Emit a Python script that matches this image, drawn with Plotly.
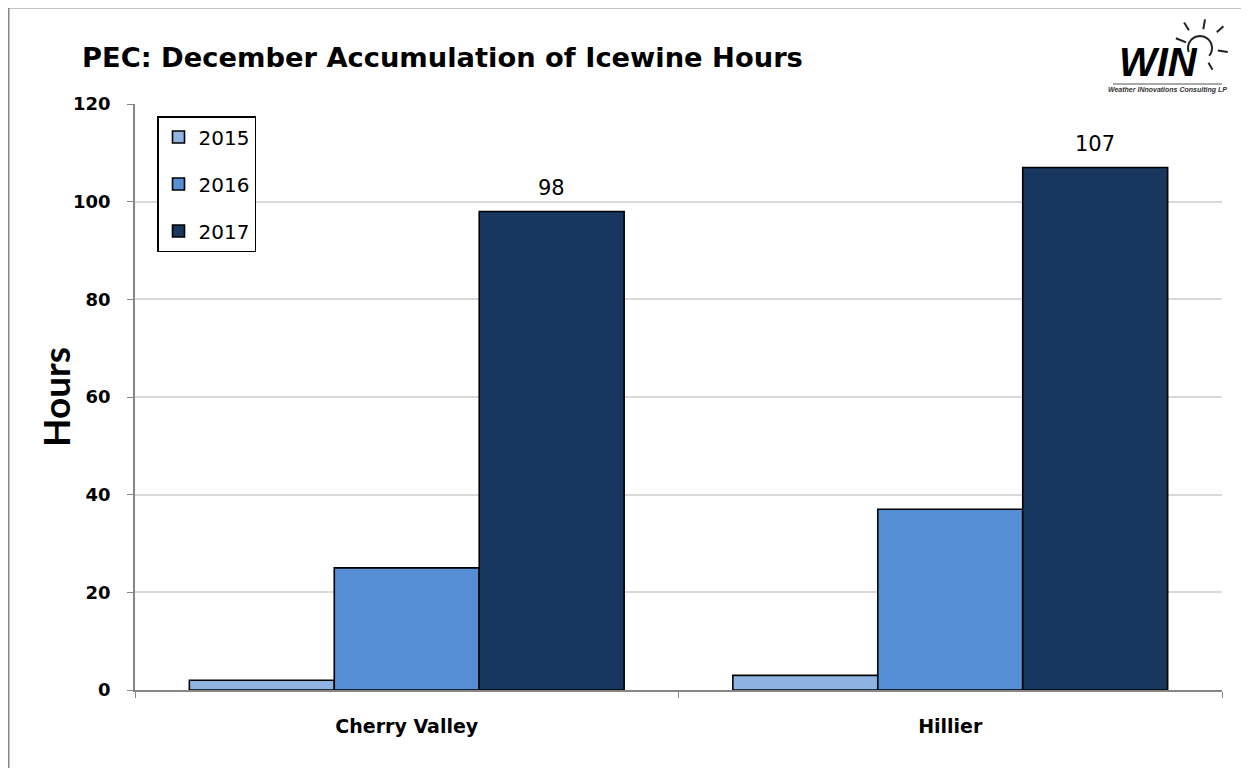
import math
import plotly.graph_objects as go

categories = ["Cherry Valley", "Hillier"]
years = ["2015", "2016", "2017"]
values_2015 = [2, 3]
values_2016 = [25, 37]
values_2017 = [98, 107]
series = [values_2015, values_2016, values_2017]
colors = ["#8eb4e3", "#558ed5", "#17375e"]
labelled_series = [False, False, True]
y_ticks = [0, 20, 40, 60, 80, 100, 120]

# page offset (body margin) -> work in page pixel coordinates
OFF = 8
W, H = 1241, 760
PL, PR, PT, PB = 135, 1222, 104, 690  # plot area in page px
L, T = PL - OFF, PT - OFF
R = W - (PR - OFF)
B = H - (PB - OFF)
pw, ph = PR - PL, PB - PT
BARGAP = 0.2


def px(x):
    return (x - PL) / pw


def py(y):
    return (PB - y) / ph


fig = go.Figure()
for i, (yr, vals) in enumerate(zip(years, series)):
    fig.add_trace(go.Bar(
        name=yr, x=categories, y=vals,
        marker=dict(color=colors[i], line=dict(color="#000000", width=1.6)),
        legendgroup=yr,
    ))

# data labels above the labelled series bars
cat_px = pw / len(categories)
bar_px = cat_px * (1 - BARGAP) / len(years)
annotations = []
for i, vals in enumerate(series):
    if not labelled_series[i]:
        continue
    offset = (i - (len(years) - 1) / 2) * bar_px
    for c, v in zip(categories, vals):
        annotations.append(dict(
            text=str(v), x=c, y=v, xref="x", yref="y", xshift=offset, yshift=23,
            xanchor="center", yanchor="middle", showarrow=False,
            font=dict(family="DejaVu Sans, sans-serif", size=21, color="#000")))

shapes = [
    dict(type="line", xref="paper", yref="paper", x0=px(8.75), x1=px(1300), y0=py(7.75), y1=py(7.75),
         line=dict(color="#868686", width=1.5)),
    dict(type="line", xref="paper", yref="paper", x0=px(8.75), x1=px(8.75), y0=py(7.75), y1=py(800),
         line=dict(color="#868686", width=1.5)),
    dict(type="line", xref="paper", yref="paper", x0=px(1113), x1=px(1222), y0=py(84), y1=py(84),
         line=dict(color="#555", width=1)),
]
# sun logo
cx, cy, rr = 1200, 48, 12
pts = []
for k in range(0, 25):
    a = math.radians(200 - k * (240 / 24))
    pts.append((cx + rr * math.cos(a), cy - rr * math.sin(a)))
path = "M " + " L ".join(f"{px(x)},{py(y)}" for x, y in pts)
shapes.append(dict(type="path", xref="paper", yref="paper", path=path, line=dict(color="#222", width=2)))
for ang, r0, r1 in [(80, 19, 29), (122, 21, 30), (158, 15, 26), (43, 23, 32), (-8, 18, 28), (-60, 17, 25)]:
    a = math.radians(ang)
    shapes.append(dict(type="line", xref="paper", yref="paper",
                       x0=px(cx + r0 * math.cos(a)), y0=py(cy - r0 * math.sin(a)),
                       x1=px(cx + r1 * math.cos(a)), y1=py(cy - r1 * math.sin(a)),
                       line=dict(color="#222", width=2)))

annotations += [
    dict(text="PEC: December Accumulation of Icewine Hours", xref="paper", yref="paper",
         x=px(80), y=py(57), xanchor="left", yanchor="middle", showarrow=False,
         font=dict(family="DejaVu Sans, sans-serif", size=27.3, color="#000", weight="bold")),
    dict(text="<i>WIN</i>", xref="paper", yref="paper",
         x=px(1158), y=py(62), xanchor="center", yanchor="middle", showarrow=False,
         font=dict(family="Liberation Sans Narrow, Liberation Sans, sans-serif", size=40,
                   color="#000", weight="bold")),
    dict(text="<i>Weather INnovations Consulting LP</i>", xref="paper", yref="paper",
         x=px(1167), y=py(90), xanchor="center", yanchor="middle", showarrow=False,
         font=dict(family="Liberation Sans Narrow, Liberation Sans, sans-serif", size=7,
                   color="#333", weight="bold")),
    dict(text="Hours", xref="paper", yref="paper", x=px(55), y=py(397),
         xanchor="center", yanchor="middle", textangle=-90, showarrow=False,
         font=dict(family="Liberation Sans Narrow, Lato, sans-serif", size=37, color="#000",
                   weight="bold")),
]

fig.update_layout(
    width=W, height=H,
    margin=dict(l=L, r=R, t=T, b=B, pad=0),
    paper_bgcolor="#ffffff", plot_bgcolor="#ffffff",
    barmode="group", bargap=BARGAP, bargroupgap=0,
    showlegend=True,
    legend=dict(x=px(157), y=py(116), xanchor="left", yanchor="top",
                bordercolor="#000", borderwidth=1.5, bgcolor="#fff",
                font=dict(family="DejaVu Sans, sans-serif", size=20, color="#000"),
                traceorder="grouped", tracegroupgap=18, itemwidth=30),
    shapes=shapes, annotations=annotations,
    xaxis=dict(showline=True, linecolor="#868686", linewidth=1.5, showgrid=False,
               ticks="outside", tickson="boundaries", ticklen=6, tickcolor="#868686",
               ticklabelstandoff=18,
               tickfont=dict(family="DejaVu Sans, sans-serif", size=19, color="#000", weight="bold")),
    yaxis=dict(range=[0, 120], tickvals=y_ticks, showline=True, linecolor="#868686", linewidth=1.5,
               showgrid=True, gridcolor="#d9d9d9", gridwidth=1.5, zeroline=False,
               ticks="outside", ticklen=6, tickcolor="#868686", ticklabelstandoff=13,
               tickfont=dict(family="DejaVu Sans, sans-serif", size=18, color="#000", weight="bold")),
)

fig.write_html("out.html")
